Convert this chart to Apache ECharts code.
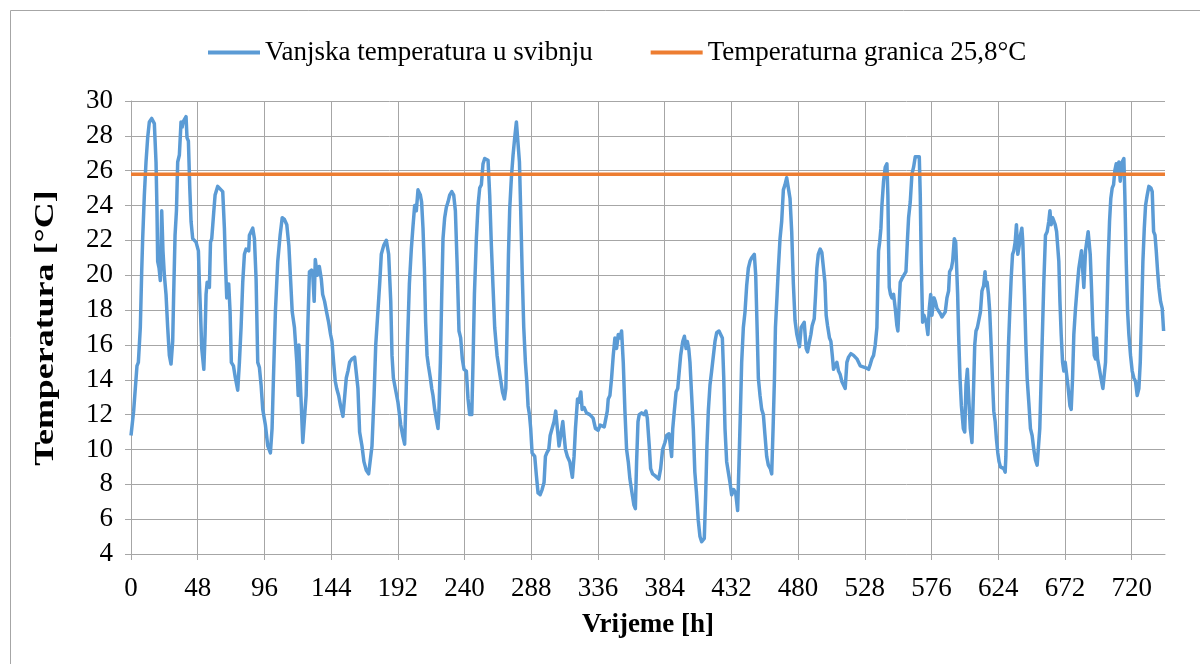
<!DOCTYPE html>
<html>
<head>
<meta charset="utf-8">
<script src="https://cdn.jsdelivr.net/npm/echarts@6/dist/echarts.min.js"></script>
<style>
html,body{margin:0;padding:0;background:#fff;}
#chart{width:1200px;height:664px;}
</style>
</head>
<body>
<div id="chart"></div>
<script>
// Hour of May (0-744) and outdoor temperature
const hours = [
0,1.9,4.3,5.3,6.7,7.7,8.4,9.6,10.8,12.0,13.2,14.9,16.8,18.0,18.7,19.2,20.2,21.1,22.1,23.0,24.0,25.2,26.4,27.6,28.8,30.0,30.7,31.7,32.7,33.6,34.8,36.0,36.8,37.5,39.6,40.3,41.3,42.3,43.2,44.4,46.8,48.5,49.2,50.0,50.9,52.4,53.3,54.0,54.8,56.4,57.2,58.1,59.6,60.5,62.4,
63.6,66.0,67.2,67.9,68.9,70.3,71.3,72.2,73.7,75.1,76.8,78.0,79.2,80.4,81.6,82.8,84.7,85.2,87.6,88.8,90.0,91.2,92.4,93.6,94.8,96.7,98.4,100.3,101.5,102.5,103.9,105.6,107.3,108.8,110.4,112.1,113.6,114.8,116.0,117.6,119.3,120.3,120.8,121.7,122.7,123.6,124.8,126.0,127.2,128.4,129.9,130.8,131.8,132.6,134.0,135.5,136.9,137.9,139.3,140.7,142.2,143.6,144.6,145.8,147.0,148.0,149.4,150.8,152.5,153.7,154.9,156.1,157.3,159.0,160.9,162.1,163.3,164.5,166.2,167.6,169.3,171.0,172.4,173.4,174.9,176.1,177.8,179.0,180.1,181.8,183.7,185.4,186.9,187.8,188.8,190.2,192.1,194.1,195.5,196.9,197.9,198.9,200.3,201.7,202.9,204.1,205.3,206.5,208.2,209.1,210.1,211.1,212.0,213.0,214.0,215.4,216.4,217.3,218.5,219.7,220.9,221.6,222.6,223.6,224.5,225.7,226.9,228.1,229.3,230.8,232.2,233.4,234.6,236.0,237.2,238.4,239.6,241.3,242.5,243.7,245.2,246.1,247.1,248.5,249.7,250.9,252.1,253.3,254.5,256.9,258.1,259.3,260.5,261.7,263.4,265.4,267.3,268.7,269.7,270.6,271.6,272.5,273.7,274.9,276.1,277.3,278.5,279.5,280.4,281.4,282.6,283.8,284.8,285.7,286.7,287.6,288.6,290.5,291.7,292.9,294.4,295.8,297.2,298.2,299.2,300.6,301.6,303.0,304.4,305.6,306.8,308.0,309.2,310.7,311.6,312.6,314.0,315.7,317.6,318.8,319.8,321.3,322.2,323.7,324.6,326.1,327.7,330.1,332.5,334.2,336.1,337.6,339.0,340.5,341.7,342.7,343.4,344.6,345.8,347.0,348.2,349.4,350.6,351.8,353.0,354.2,355.4,356.6,357.8,359.0,360.5,361.9,362.9,363.8,364.8,365.7,367.4,369.1,370.5,371.5,372.9,373.9,375.3,377.0,378.2,379.7,381.1,382.5,384.2,385.4,387.1,388.3,389.0,389.8,390.7,392.2,393.4,394.6,395.5,397.0,398.2,399.4,400.3,401.3,402.2,403.4,404.6,405.7,406.8,408.2,409.4,410.6,412.5,413.5,414.4,415.4,416.6,417.8,419.0,420.2,421.4,423.1,424.5,425.5,426.5,427.4,428.6,429.8,431.0,432.2,433.7,435.1,436.5,437.5,438.5,439.4,440.6,441.8,443.0,444.2,445.4,446.6,448.5,449.5,450.5,451.4,452.6,453.8,455.0,456.2,457.4,458.6,460.0,461.0,462.0,463.0,463.7,464.9,465.8,467.0,468.2,469.4,470.6,471.8,473.0,474.2,475.4,476.6,477.8,479.1,481.0,482.2,483.4,484.4,485.8,486.8,488.2,489.2,490.1,491.6,492.6,493.5,494.5,495.9,497.1,498.3,499.3,500.2,501.2,502.6,503.6,504.6,505.5,506.7,507.9,509.1,510.3,511.5,512.7,513.9,515.1,516.3,518.0,519.9,522.3,524.7,525.9,528.3,530.7,532.0,533.1,534.3,535.5,536.7,537.2,537.9,538.7,539.6,540.3,541.5,542.7,543.9,544.6,545.1,545.6,546.5,547.5,548.7,549.9,551.1,551.8,552.8,553.5,554.7,556.1,557.6,558.6,559.5,560.7,561.9,563.1,564.3,565.5,567.2,567.9,568.6,569.6,570.6,571.5,572.2,573.4,574.4,575.4,576.3,577.8,578.7,579.9,581.1,582.3,583.5,584.7,585.9,587.1,588.3,589.0,590.3,591.2,592.4,593.4,594.1,594.8,595.5,596.5,597.5,598.9,599.9,600.8,601.8,602.7,603.9,605.1,606.1,607.1,608.0,609.0,610.0,611.2,612.3,613.5,614.5,615.2,616.0,617.0,617.9,618.9,619.8,620.8,621.8,622.7,623.7,624.6,625.6,626.8,628.0,629.0,629.5,630.4,631.4,632.3,633.3,634.3,635.2,636.2,637.1,638.1,639.1,640.0,641.0,641.7,642.9,643.9,644.8,646.0,647.2,648.4,649.6,650.8,652.0,653.0,653.9,654.9,655.9,656.8,658.0,659.2,660.4,661.2,662.1,663.1,664.1,665.0,666.0,666.9,667.6,668.4,669.3,670.3,671.2,672.2,673.2,674.1,675.6,676.5,677.5,678.4,679.6,680.8,682.0,683.9,685.6,686.8,688.7,690.2,691.1,692.1,693.1,694.0,694.7,695.5,696.4,697.9,699.3,700.3,701.2,702.2,703.1,704.1,705.0,706.0,707.0,707.9,708.9,709.9,710.8,711.8,713.2,714.4,715.1,716.1,717.1,718.0,719.2,720.4,721.6,722.8,724.0,725.2,726.2,727.2,728.1,729.1,730.0,731.2,732.4,733.9,734.8,735.8,736.8,737.7,738.7,739.6,740.8,742.0,743.0
];
const temps = [
10.8,12.2,14.8,15.0,17.0,20.2,22.1,24.6,26.5,27.9,28.8,29.0,28.7,26.5,23.7,20.8,20.4,19.7,23.7,21.4,20.0,18.9,17.0,15.4,14.9,16.2,18.9,22.3,23.7,26.5,26.9,28.8,28.5,28.8,29.1,27.9,27.7,25.0,23.1,22.1,21.9,21.4,19.6,17.9,15.8,14.6,16.6,18.9,19.6,19.3,21.9,22.1,23.7,24.6,25.1,
25.1,24.8,22.7,20.8,18.7,19.5,17.9,15.0,14.8,14.1,13.4,15.0,17.0,19.6,21.2,21.5,21.4,22.3,22.7,22.1,19.8,15.0,14.7,13.7,12.3,11.4,10.2,9.8,11.2,14.1,17.9,20.8,22.3,23.3,23.2,22.9,21.7,19.8,17.9,17.0,15.0,13.1,16.0,14.1,12.2,10.4,10.3,13.1,17.0,20.2,20.3,20.0,18.5,20.9,20.0,20.5,19.8,18.9,18.5,17.9,17.3,16.6,16.2,15.0,13.9,13.5,13.1,12.5,11.9,12.0,14.1,14.5,15.0,15.2,15.3,15.2,13.5,11.0,10.2,9.3,8.8,8.6,8.7,10.2,13.1,16.0,18.1,19.6,21.2,21.7,22.0,21.2,18.5,15.4,14.1,13.5,12.7,11.4,10.8,10.3,13.1,16.0,19.5,21.5,22.8,24.0,23.7,24.9,24.6,24.2,22.7,20.4,17.3,15.4,14.8,14.1,13.5,13.1,12.3,12.2,11.2,12.3,15.0,18.9,22.1,23.3,23.9,24.2,24.6,24.8,24.6,23.7,20.8,16.8,16.4,15.2,14.6,14.5,12.9,12.0,12.0,15.0,18.9,22.1,24.0,25.0,25.2,26.4,26.7,26.6,24.6,21.7,19.3,17.0,15.4,14.3,13.3,12.9,13.5,17.0,21.2,23.8,25.6,26.9,27.9,28.8,28.7,26.5,23.7,20.4,17.0,15.0,13.9,12.5,12.0,11.2,9.8,9.6,8.5,7.5,7.4,7.7,8.1,9.6,9.8,10.0,10.8,11.2,11.6,12.2,11.2,10.2,10.8,11.6,10.8,10.0,9.6,9.3,8.4,9.6,11.2,12.9,12.7,13.3,12.3,12.4,12.1,12.0,11.8,11.2,11.1,11.4,11.5,11.3,11.4,12.2,12.9,13.1,14.1,15.4,16.4,15.8,16.6,16.4,16.8,15.0,12.2,10.0,9.3,8.3,7.5,6.8,6.6,9.3,11.6,12.0,12.1,12.0,12.2,11.8,10.2,8.9,8.6,8.5,8.4,8.3,8.9,10.0,10.4,10.8,10.9,11.0,9.6,11.2,12.0,13.3,13.5,14.6,15.4,16.2,16.5,15.8,16.2,15.8,15.0,13.1,11.2,8.7,7.6,5.9,5.0,4.7,4.9,7.4,10.2,12.2,13.7,14.5,14.6,16.2,16.7,16.8,16.9,16.4,14.1,11.2,9.3,8.7,8.1,7.4,7.7,7.5,6.5,9.3,12.2,15.0,17.0,17.9,19.4,20.4,20.8,21.0,21.2,20.0,17.0,14.1,13.1,12.3,12.0,10.8,9.6,9.1,8.9,8.6,11.2,14.1,17.0,18.9,20.4,22.1,23.1,24.9,25.2,25.6,25.0,24.4,22.5,19.5,17.4,16.6,15.9,17.0,17.1,17.3,15.8,15.6,16.2,16.6,17.1,17.5,18.9,20.4,21.2,21.5,21.3,21.2,19.6,17.7,17.1,16.4,16.2,15.4,14.6,14.5,15.0,14.5,14.3,13.9,13.7,13.5,15.0,15.3,15.5,15.4,15.2,14.8,14.7,14.7,14.6,14.9,15.2,15.4,16.0,17.0,18.9,21.4,21.9,22.7,24.0,25.4,26.2,26.4,24.6,21.7,19.3,18.9,18.7,18.9,18.1,17.1,16.8,18.5,19.6,19.8,19.8,20.2,21.9,23.3,24.2,25.8,26.2,26.8,26.9,26.8,24.6,20.8,17.3,17.7,17.7,17.3,16.6,18.1,18.9,17.7,18.7,18.5,18.1,18.0,17.8,17.6,17.6,17.9,18.7,19.1,20.2,20.4,20.8,22.1,21.9,20.4,18.9,16.6,14.1,12.5,11.2,11.0,13.7,14.6,13.1,11.2,10.4,13.1,16.0,16.8,17.0,17.1,17.9,19.1,19.4,20.2,19.4,19.6,18.9,17.9,16.0,14.1,12.2,11.6,10.6,9.8,9.3,9.0,9.0,8.9,8.7,9.6,13.1,16.0,17.9,19.8,21.2,21.4,21.9,22.9,21.2,21.7,22.3,22.7,21.9,18.9,16.0,14.1,12.7,11.2,10.8,10.0,9.4,9.1,9.1,11.2,14.1,17.0,19.6,22.3,22.5,23.1,23.7,22.9,23.3,23.1,22.9,22.5,22.5,20.8,18.5,16.6,15.0,14.5,15.0,15.0,13.7,12.5,12.3,14.1,16.6,18.1,19.3,20.4,21.4,19.3,21.4,22.5,21.2,19.3,17.0,15.4,15.2,16.4,15.2,14.8,14.1,13.5,13.4,15.0,17.9,20.8,23.1,24.4,25.0,25.2,26.0,26.4,25.8,26.5,25.4,26.5,26.7,24.6,20.8,17.9,16.6,15.4,14.5,14.1,13.9,13.1,13.5,15.0,17.9,20.8,22.7,24.0,24.6,25.1,25.0,24.8,22.5,22.3,21.4,20.2,19.3,18.5,18.1,16.8
];
const limitHours = [0, 744];
const limitTemps = [25.8, 25.8];
const seriesNames = ['Vanjska temperatura u svibnju', 'Temperaturna granica 25,8°C'];
const xTitle = 'Vrijeme [h]';
const yTitle = 'Temperatura [°C]';

const FONT = 'Liberation Serif';
const chart = echarts.init(document.getElementById('chart'), null, {renderer: 'canvas'});
chart.setOption({
  animation: false,
  backgroundColor: '#ffffff',
  textStyle: {fontFamily: FONT, color: '#000'},
  graphic: [
    {
      type: 'rect', shape: {x: 10.5, y: 10.5, width: 1200, height: 700},
      style: {fill: 'none', stroke: '#a6a6a6', lineWidth: 1}, silent: true, z: -1
    },
    {
      type: 'text', x: 46, y: 328, rotation: Math.PI / 2, scaleX: 1.33,
      style: {text: yTitle, fontFamily: FONT, fontSize: 27, fontWeight: 'bold', fill: '#000',
              align: 'center', verticalAlign: 'middle'},
      silent: true
    }
  ],
  legend: {
    top: 34, left: 203,
    itemWidth: 52, itemHeight: 4, itemGap: 58,
    textStyle: {fontFamily: FONT, fontSize: 27, color: '#000'},
    data: seriesNames.map(n => ({name: n, icon: 'rect'}))
  },
  grid: {left: 131, top: 101, right: 35, bottom: 110, containLabel: false},
  xAxis: {
    type: 'value', min: 0, max: 744, interval: 48,
    name: xTitle, nameLocation: 'middle', nameGap: 58,
    nameTextStyle: {fontFamily: FONT, fontSize: 27, fontWeight: 'bold', color: '#000'},
    axisLine: {show: true, lineStyle: {color: '#a6a6a6', width: 1}},
    axisTick: {show: true, length: 6, lineStyle: {color: '#a6a6a6'}},
    axisLabel: {fontFamily: FONT, fontSize: 27, color: '#000', margin: 21, showMaxLabel: false},
    splitLine: {show: true, showMaxLine: false, lineStyle: {color: '#a6a6a6', width: 1}}
  },
  yAxis: {
    type: 'value', min: 4, max: 30, interval: 2,
    axisLine: {show: true, lineStyle: {color: '#a6a6a6', width: 1}},
    axisTick: {show: true, length: 6, lineStyle: {color: '#a6a6a6'}},
    axisLabel: {fontFamily: FONT, fontSize: 27, color: '#000', margin: 18},
    splitLine: {show: true, lineStyle: {color: '#a6a6a6', width: 1}}
  },
  series: [
    {
      name: seriesNames[0], type: 'line', showSymbol: false, symbol: 'none',
      data: hours.map((h, i) => [h, temps[i]]),
      itemStyle: {color: '#5b9bd5'},
      lineStyle: {color: '#5b9bd5', width: 3.5, join: 'round'},
      z: 2
    },
    {
      name: seriesNames[1], type: 'line', showSymbol: false, symbol: 'none',
      data: limitHours.map((h, i) => [h, limitTemps[i]]),
      itemStyle: {color: '#ed7d31'},
      lineStyle: {color: '#ed7d31', width: 3.5},
      z: 3
    }
  ]
});
</script>
</body>
</html>
